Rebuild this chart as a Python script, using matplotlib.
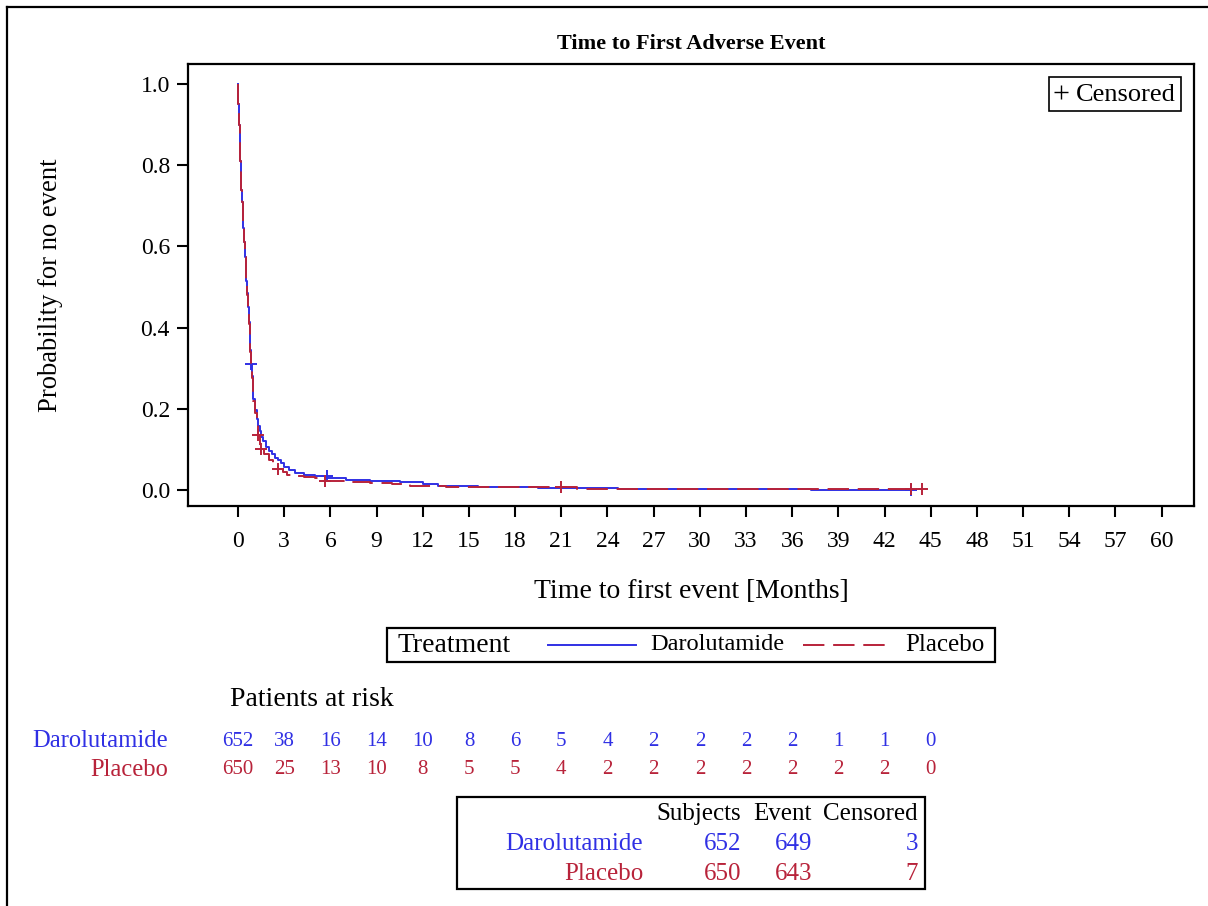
import numpy as np
import matplotlib
matplotlib.use("Agg")
import matplotlib.pyplot as plt
from matplotlib.lines import Line2D
from matplotlib.patches import Rectangle
import matplotlib.transforms as mtransforms

plt.rcParams['font.family'] = ['Liberation Serif', 'DejaVu Serif']

BLUE = '#3030E4'
RED = '#B8233A'

# Kaplan-Meier step estimates (months, survival)
dar_t = [0, 0.03, 0.06, 0.1, 0.14, 0.18, 0.22, 0.26, 0.3, 0.35, 0.4, 0.45, 0.5, 0.55, 0.6,
         0.65, 0.7, 0.75, 0.8, 0.85, 0.9, 0.95, 1.0, 1.1, 1.2, 1.3, 1.4, 1.5, 1.6, 1.8, 2.0,
         2.2, 2.4, 2.6, 2.8, 3.0, 3.3, 3.7, 4.3, 5.0, 5.8, 7.0, 8.6, 10.5, 12.0, 13.0, 15.6,
         19.5, 21.0, 24.7, 26.7, 37.2]
dar_s = [1.0, 0.95, 0.9, 0.85, 0.81, 0.77, 0.74, 0.71, 0.68, 0.645, 0.61, 0.575, 0.545, 0.515, 0.485,
         0.45, 0.415, 0.38, 0.345, 0.31, 0.28, 0.25, 0.225, 0.197, 0.176, 0.158, 0.145, 0.132, 0.12, 0.105, 0.096,
         0.088, 0.08, 0.073, 0.066, 0.058, 0.05, 0.042, 0.038, 0.034, 0.029, 0.025, 0.022, 0.019, 0.014, 0.0106, 0.008,
         0.006, 0.005, 0.003, 0.0025, 0.0012]
dar_end = 43.7
dar_cens = [0.86, 5.75, 43.7]

plc_t = [0, 0.03, 0.06, 0.1, 0.14, 0.18, 0.22, 0.26, 0.3, 0.35, 0.4, 0.45, 0.5, 0.55, 0.6,
         0.65, 0.7, 0.75, 0.8, 0.85, 0.9, 0.95, 1.0, 1.1, 1.2, 1.3, 1.4, 1.45, 1.7, 2.0, 2.3,
         2.6, 2.9, 3.2, 3.7, 4.3, 5.0, 5.6, 7.0, 8.6, 10.0, 11.2, 13.5, 15.6, 19.5, 22.0, 24.7]
plc_s = [1.0, 0.95, 0.9, 0.85, 0.81, 0.77, 0.74, 0.71, 0.68, 0.645, 0.61, 0.575, 0.545, 0.515, 0.48,
         0.445, 0.41, 0.375, 0.34, 0.305, 0.275, 0.245, 0.22, 0.19, 0.16, 0.135, 0.115, 0.102, 0.09, 0.075, 0.063,
         0.053, 0.045, 0.038, 0.036, 0.033, 0.029, 0.023, 0.02, 0.017, 0.014, 0.011, 0.0085, 0.0075, 0.0066, 0.004, 0.0025]
plc_end = 44.4
plc_cens = [1.32, 1.47, 2.6, 5.65, 20.95, 43.7, 44.4]

risk_times = list(range(0, 46, 3))
dar_risk = [652, 38, 16, 14, 10, 8, 6, 5, 4, 2, 2, 2, 2, 1, 1, 0]
plc_risk = [650, 25, 13, 10, 8, 5, 5, 4, 2, 2, 2, 2, 2, 2, 2, 0]

groups = ['Darolutamide', 'Placebo']
subjects = [652, 650]
events = [649, 643]
censored = [3, 7]

W, H = 1208, 906
fig = plt.figure(figsize=(W / 100, H / 100), dpi=100)


def fx(x):
    return x / W


def fy(y):
    return 1 - y / H


ax = fig.add_axes([fx(188), fy(506), fx(1194 - 188), (506 - 64) / H])
DASH = (11, 4.5)


def km_line(t, s, end, cens, color, dashes):
    tt = np.append(t, end)
    ss = np.append(s, s[-1])
    line, = ax.step(tt, ss, where='post', color=color, lw=1.4)
    if dashes:
        line.set_dashes(dashes)
    idx = np.searchsorted(t, cens, side='right') - 1
    ax.plot(cens, np.array(s)[idx], linestyle='none', marker='+', color=color,
            markersize=9, markeredgewidth=1.4)
    return line


km_line(dar_t, dar_s, dar_end, dar_cens, BLUE, None)
km_line(plc_t, plc_s, plc_end, plc_cens, RED, DASH)

ax.set_xlim(-3.25, 62.1)
ax.set_ylim(-0.039, 1.049)
ax.set_xticks(range(0, 61, 3))
ax.set_yticks(np.arange(0, 1.01, 0.2))
ax.set_yticklabels([f'{v:.1f}' for v in np.arange(0, 1.01, 0.2)])
ax.tick_params(direction='out', length=8, width=1.5, labelsize=17, color='black')
ax.tick_params(axis='x', pad=10)
ax.tick_params(axis='y', pad=5)
for sp in ax.spines.values():
    sp.set_linewidth(1.6)
ax.set_xlabel('Time to first event [Months]', fontsize=20)
ax.xaxis.set_label_coords(0.5, -0.166)
ax.set_ylabel('Probability for no event', fontsize=19.2)
ax.yaxis.set_label_coords(-0.124, 0.5)
ax.set_title('Time to First Adverse Event', fontsize=16, fontweight='bold', pad=11)

cens_handle = Line2D([], [], marker='+', color='black', linestyle='none', markersize=10,
                     markeredgewidth=1.0)
leg = ax.legend(handles=[cens_handle], labels=['Censored'], loc='upper right',
                fontsize=19, handlelength=0.5, handletextpad=0.3, borderpad=0.2,
                borderaxespad=0.5, fancybox=False, edgecolor='black', framealpha=1)
leg.get_frame().set_linewidth(1.2)

# outer frame (left and top only visible)
fig.add_artist(Line2D([fx(7), fx(7)], [0, fy(7)], color='black', lw=1.6))
fig.add_artist(Line2D([fx(7), 1], [fy(7), fy(7)], color='black', lw=1.6))

# treatment legend
fig.add_artist(Rectangle((fx(387), fy(662)), fx(995 - 387), (662 - 628) / H, fill=False,
                         edgecolor='black', lw=1.6))
fig.text(fx(398), fy(646), 'Treatment', fontsize=20, va='center', ha='left')
fig.add_artist(Line2D([fx(548), fx(636)], [fy(645), fy(645)], color=BLUE, lw=1.4))
fig.text(fx(650), fy(645), groups[0], fontsize=17.6, va='center', ha='left')
dash = Line2D([fx(803), fx(887)], [fy(645), fy(645)], color=RED, lw=1.4)
dash.set_dashes(DASH)
fig.add_artist(dash)
fig.text(fx(905), fy(645), groups[1], fontsize=18, va='center', ha='left')

# patients at risk
fig.text(fx(230), fy(700), 'Patients at risk', fontsize=20, va='center', ha='left')
blend = mtransforms.blended_transform_factory(ax.transData, fig.transFigure)
for risk, color, y, name in [(dar_risk, BLUE, 741, groups[0]), (plc_risk, RED, 770, groups[1])]:
    fig.text(fx(168), fy(y), name, fontsize=17.7, color=color, va='center', ha='right')
    for t, n in zip(risk_times, risk):
        ax.text(t, fy(y), str(n), transform=blend, fontsize=15, color=color,
                va='center', ha='center', clip_on=False)

# summary table
fig.add_artist(Rectangle((fx(457), fy(889)), fx(925 - 457), (889 - 797) / H, fill=False,
                         edgecolor='black', lw=1.6))
col_right = [741, 812, 918]
for x, lab in zip(col_right, ['Subjects', 'Event', 'Censored']):
    fig.text(fx(x), fy(814), lab, fontsize=18, va='center', ha='right')
for i, (color, y) in enumerate([(BLUE, 844), (RED, 874)]):
    fig.text(fx(643), fy(y), groups[i], fontsize=18, color=color, va='center', ha='right')
    for x, v in zip(col_right, [subjects[i], events[i], censored[i]]):
        fig.text(fx(x), fy(y), str(v), fontsize=18, color=color, va='center', ha='right')

fig.savefig('out.png', dpi=100)
